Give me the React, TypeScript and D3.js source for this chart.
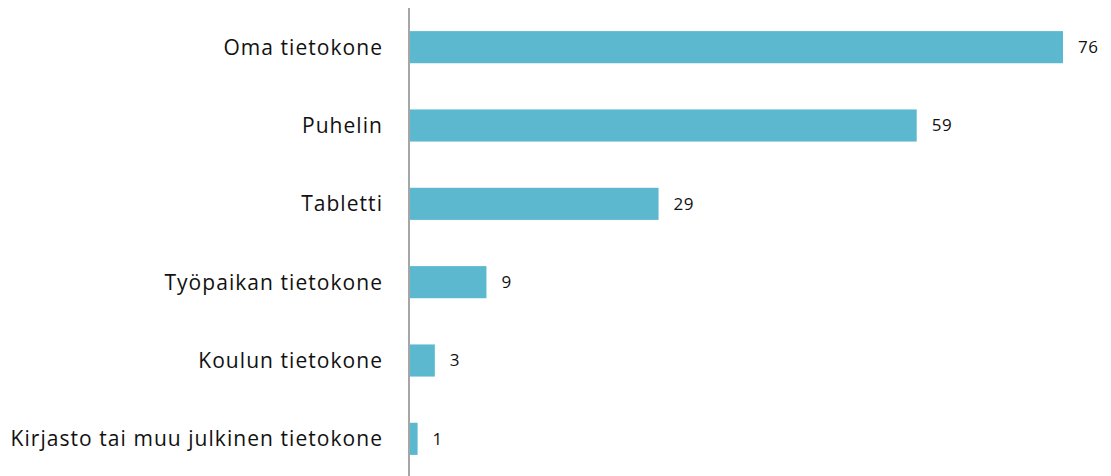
import React from "react";
import * as d3 from "d3";

const categories = [
  "Oma tietokone",
  "Puhelin",
  "Tabletti",
  "Työpaikan tietokone",
  "Koulun tietokone",
  "Kirjasto tai muu julkinen tietokone",
];
const values = [76, 59, 29, 9, 3, 1];

const W = 1111;
const H = 476;
const x0 = 409;

export default function App() {
  const x = d3.scaleLinear().domain([0, 76]).range([x0, 1063]);
  const y = d3
    .scaleBand<string>()
    .domain(categories)
    .range([8, 478])
    .paddingInner(0.59)
    .paddingOuter(0.295);
  const font = "'Open Sans', sans-serif";
  return (
    <svg
      width={W}
      height={H}
      style={{ position: "absolute", left: 0, top: 0, background: "#fff" }}
    >
      {categories.map((c, i) => {
        const yy = y(c)!;
        const cy = yy + y.bandwidth() / 2;
        return (
          <g key={c}>
            <rect
              x={x(0)}
              y={yy}
              width={x(values[i]) - x(0)}
              height={y.bandwidth()}
              fill="#5bb8cf"
            />
            <text
              x={383}
              y={cy}
              dy="0.35em"
              textAnchor="end"
              fontFamily={font}
              fontSize={21}
              letterSpacing={1.05}
              fill="#111"
            >
              {c}
            </text>
            <text
              x={x(values[i]) + 15}
              y={cy}
              dy="0.35em"
              fontFamily={font}
              fontSize={17}
              letterSpacing={0.5}
              fill="#111"
            >
              {values[i]}
            </text>
          </g>
        );
      })}
      <line x1={x0} x2={x0} y1={8} y2={H} stroke="#a6a6a6" strokeWidth={2} />
    </svg>
  );
}
